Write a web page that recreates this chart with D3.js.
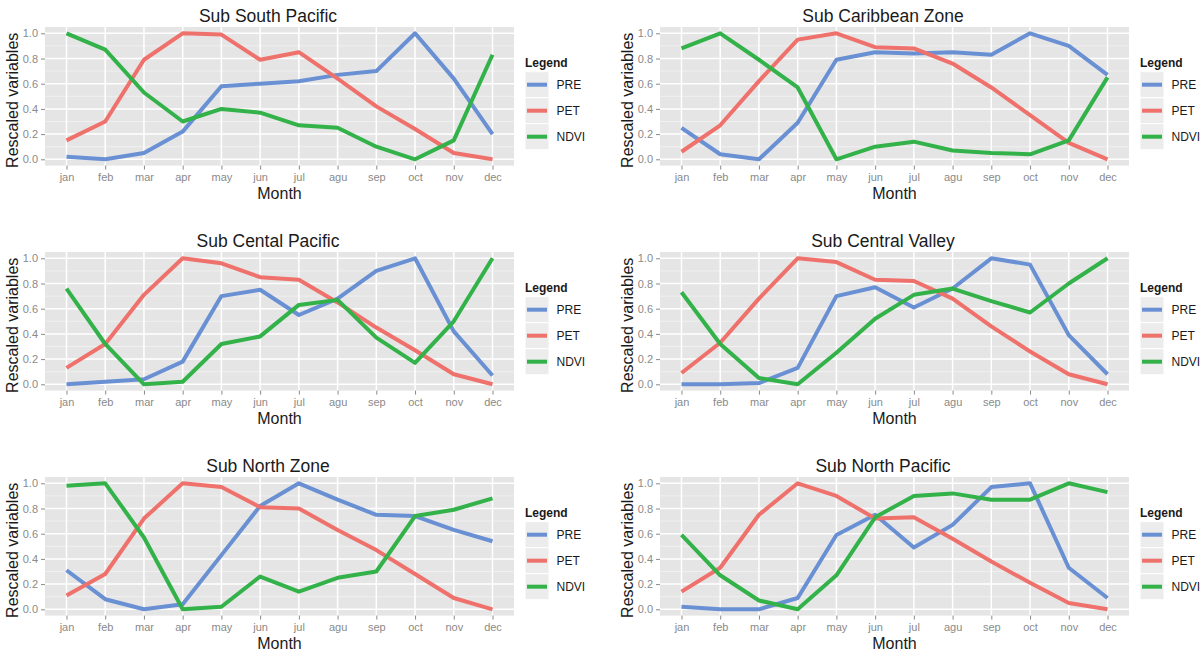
<!DOCTYPE html>
<html>
<head>
<meta charset="utf-8">
<script src="https://cdn.jsdelivr.net/npm/d3@7"></script>
<style>
  html, body { margin: 0; padding: 0; background: #ffffff; }
  svg { display: block; font-family: "Liberation Sans", Arial, Helvetica, sans-serif; }
</style>
</head>
<body>
<svg id="chart" width="1203" height="653"></svg>
<script>
// Monthly rescaled variables for six sub-regions
const months = ["jan", "feb", "mar", "apr", "may", "jun", "jul", "agu", "sep", "oct", "nov", "dec"];
const seriesNames = ["PRE", "PET", "NDVI"];
const seriesColors = ["#6a90d4", "#ef716c", "#33b24a"];
const yTicks = [0, 0.2, 0.4, 0.6, 0.8, 1.0];
const panelTitles = ["Sub South Pacific", "Sub Caribbean Zone", "Sub Cental Pacific",
                     "Sub Central Valley", "Sub North Zone", "Sub North Pacific"];

const southPacificPRE  = [0.02, 0.00, 0.05, 0.22, 0.58, 0.60, 0.62, 0.67, 0.70, 1.00, 0.64, 0.20];
const southPacificPET  = [0.15, 0.30, 0.79, 1.00, 0.99, 0.79, 0.85, 0.64, 0.42, 0.24, 0.05, 0.00];
const southPacificNDVI = [1.00, 0.87, 0.53, 0.30, 0.40, 0.37, 0.27, 0.25, 0.10, 0.00, 0.15, 0.83];

const caribbeanPRE  = [0.25, 0.04, 0.00, 0.29, 0.79, 0.85, 0.84, 0.85, 0.83, 1.00, 0.90, 0.67];
const caribbeanPET  = [0.06, 0.27, 0.62, 0.95, 1.00, 0.89, 0.88, 0.76, 0.57, 0.35, 0.13, 0.00];
const caribbeanNDVI = [0.88, 1.00, 0.79, 0.57, 0.00, 0.10, 0.14, 0.07, 0.05, 0.04, 0.15, 0.65];

const centalPacificPRE  = [0.00, 0.02, 0.04, 0.18, 0.70, 0.75, 0.55, 0.68, 0.90, 1.00, 0.42, 0.07];
const centalPacificPET  = [0.13, 0.32, 0.71, 1.00, 0.96, 0.85, 0.83, 0.65, 0.45, 0.27, 0.08, 0.00];
const centalPacificNDVI = [0.76, 0.32, 0.00, 0.02, 0.32, 0.38, 0.63, 0.67, 0.37, 0.17, 0.50, 1.00];

const centralValleyPRE  = [0.00, 0.00, 0.01, 0.13, 0.70, 0.77, 0.61, 0.76, 1.00, 0.95, 0.39, 0.08];
const centralValleyPET  = [0.09, 0.33, 0.68, 1.00, 0.97, 0.83, 0.82, 0.68, 0.46, 0.26, 0.08, 0.00];
const centralValleyNDVI = [0.73, 0.32, 0.05, 0.00, 0.25, 0.52, 0.71, 0.76, 0.66, 0.57, 0.80, 1.00];

const northZonePRE  = [0.31, 0.08, 0.00, 0.04, 0.43, 0.82, 1.00, 0.87, 0.75, 0.74, 0.63, 0.54];
const northZonePET  = [0.11, 0.28, 0.72, 1.00, 0.97, 0.81, 0.80, 0.63, 0.47, 0.28, 0.09, 0.00];
const northZoneNDVI = [0.98, 1.00, 0.57, 0.00, 0.02, 0.26, 0.14, 0.25, 0.30, 0.74, 0.79, 0.88];

const northPacificPRE  = [0.02, 0.00, 0.00, 0.09, 0.59, 0.75, 0.49, 0.67, 0.97, 1.00, 0.33, 0.09];
const northPacificPET  = [0.14, 0.33, 0.75, 1.00, 0.90, 0.72, 0.73, 0.56, 0.38, 0.21, 0.05, 0.00];
const northPacificNDVI = [0.59, 0.27, 0.07, 0.00, 0.27, 0.73, 0.90, 0.92, 0.87, 0.87, 1.00, 0.93];

const panelSeries = [
  [southPacificPRE, southPacificPET, southPacificNDVI],
  [caribbeanPRE, caribbeanPET, caribbeanNDVI],
  [centalPacificPRE, centalPacificPET, centalPacificNDVI],
  [centralValleyPRE, centralValleyPET, centralValleyNDVI],
  [northZonePRE, northZonePET, northZoneNDVI],
  [northPacificPRE, northPacificPET, northPacificNDVI]
];

// Layout of one facet; panels are repeated on a 2 x 3 grid
const colOffset = 615, rowOffset = 225;
const plot = { left: 45, right: 514, top: 27, bottom: 165.6 };

const svg = d3.select("#chart");

const x = d3.scalePoint().domain(months).range([plot.left, plot.right]).padding(0.555);
const y = d3.scaleLinear().domain([-0.05, 1.05]).range([plot.bottom, plot.top]);
const minorTicks = d3.range(0.1, 1.0, 0.2);

panelTitles.forEach((title, i) => {
  const col = i % 2, row = Math.floor(i / 2);
  const g = svg.append("g").attr("transform", `translate(${col * colOffset},${row * rowOffset})`);

  // panel background
  g.append("rect")
    .attr("x", plot.left).attr("y", plot.top)
    .attr("width", plot.right - plot.left).attr("height", plot.bottom - plot.top)
    .attr("fill", "#e5e5e5");

  // minor grid
  g.append("g").selectAll("line").data(minorTicks).join("line")
    .attr("x1", plot.left).attr("x2", plot.right)
    .attr("y1", d => y(d)).attr("y2", d => y(d))
    .attr("stroke", "#f2f2f2").attr("stroke-width", 0.8);

  // major grid
  g.append("g").selectAll("line").data(yTicks).join("line")
    .attr("x1", plot.left).attr("x2", plot.right)
    .attr("y1", d => y(d)).attr("y2", d => y(d))
    .attr("stroke", "#ffffff").attr("stroke-width", 1.5);
  g.append("g").selectAll("line").data(months).join("line")
    .attr("x1", d => x(d)).attr("x2", d => x(d))
    .attr("y1", plot.top).attr("y2", plot.bottom)
    .attr("stroke", "#ffffff").attr("stroke-width", 1.5);

  // series lines
  const line = d3.line().x((d, k) => x(months[k])).y(d => y(d));
  panelSeries[i].forEach((vals, s) => {
    g.append("path")
      .datum(vals)
      .attr("d", line)
      .attr("fill", "none")
      .attr("stroke", seriesColors[s])
      .attr("stroke-width", 4)
      .attr("stroke-linejoin", "round");
  });

  // axes
  const yAxis = g.append("g").attr("transform", `translate(${plot.left},0)`)
    .call(d3.axisLeft(y).tickValues(yTicks).tickFormat(d3.format(".1f")).tickSize(4).tickPadding(3));
  const xAxis = g.append("g").attr("transform", `translate(0,${plot.bottom})`)
    .call(d3.axisBottom(x).tickSize(4).tickPadding(4));
  [yAxis, xAxis].forEach(a => {
    a.select(".domain").remove();
    a.selectAll(".tick line").attr("stroke", "#8a8a8a").attr("stroke-width", 1);
    a.selectAll(".tick text").attr("fill", "#8a8a8a").style("font-size", "11px")
      .style("font-family", "'Liberation Sans', Arial, sans-serif");
  });

  // titles
  g.append("text")
    .attr("x", 268).attr("y", 22)
    .attr("text-anchor", "middle")
    .style("font-size", "17.5px").attr("fill", "#1a1a1a")
    .text(title);
  g.append("text")
    .attr("x", (plot.left + plot.right) / 2).attr("y", 198.5)
    .attr("text-anchor", "middle")
    .style("font-size", "16px").attr("fill", "#1a1a1a")
    .text("Month");
  g.append("text")
    .attr("transform", `translate(18,${(plot.top + plot.bottom) / 2 + 4}) rotate(-90)`)
    .attr("text-anchor", "middle")
    .style("font-size", "16px").attr("fill", "#1a1a1a")
    .text("Rescaled variables");

  // legend
  const lg = g.append("g").attr("transform", "translate(525,0)");
  lg.append("text")
    .attr("x", 0).attr("y", 66.5)
    .style("font-size", "12px").style("font-weight", "bold").attr("fill", "#1a1a1a")
    .text("Legend");
  seriesNames.forEach((name, s) => {
    const cy = 84.7 + s * 26;
    lg.append("rect")
      .attr("x", 0).attr("y", cy - 13).attr("width", 24).attr("height", 26)
      .attr("fill", "#ececec").attr("stroke", "#ffffff").attr("stroke-width", 1);
    lg.append("line")
      .attr("x1", 2).attr("x2", 22).attr("y1", cy).attr("y2", cy)
      .attr("stroke", seriesColors[s]).attr("stroke-width", 4);
    lg.append("text")
      .attr("x", 31.5).attr("y", cy + 4.3)
      .style("font-size", "12px").attr("fill", "#1a1a1a")
      .text(name);
  });
});
</script>
</body>
</html>
